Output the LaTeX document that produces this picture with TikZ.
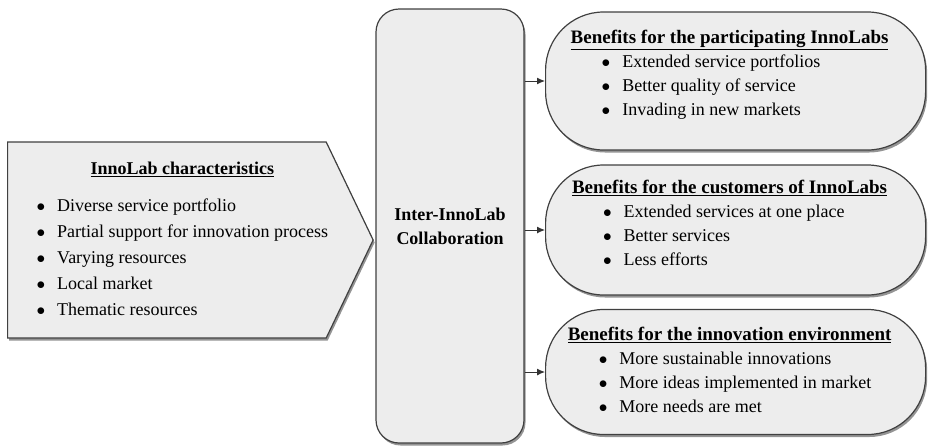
\documentclass[tikz,border=0pt]{standalone}
\usepackage{fontspec}
\setmainfont{Liberation Serif}
\usetikzlibrary{shapes.symbols,shadows,arrows.meta}

\newcommand{\itm}[1]{$\bullet$\hspace{12pt}#1}
\newcommand{\hdr}[1]{\underline{\textbf{#1}}}
\newcommand{\bighdr}[1]{{\fontsize{19}{24}\selectfont\hdr{#1}}}

\begin{document}
\begin{tikzpicture}[x=1pt,y=-1pt,
    boxed/.style={draw=black!75,line width=1.2pt,fill=black!7,
      drop shadow={shadow xshift=1.5pt,shadow yshift=-2.5pt,fill=black!70,opacity=.6}},
    capsule/.style={boxed,rounded corners=58pt,minimum width=380pt,anchor=west,
      font=\fontsize{18}{24}\selectfont},
    arr/.style={draw=black!80,line width=1pt,-{Latex[length=8pt,width=7pt]}}]
  \useasboundingbox (0,0) rectangle (928,445);

  % left: characteristics
  \node[boxed,signal,signal to=east,signal pointer angle=128.8,
        minimum height=196pt,inner xsep=0pt,inner ysep=0pt,anchor=west,
        font=\fontsize{18}{26}\selectfont] (chars) at (7,240)
    {\begin{tabular}{@{\hspace{29pt}}l@{\hspace{-2pt}}}
      \multicolumn{1}{@{\hspace{29pt}}c@{\hspace{-2pt}}}{\hdr{InnoLab characteristics}}\\[11pt]
      \itm{Diverse service portfolio}\\
      \itm{Partial support for innovation process}\\
      \itm{Varying resources}\\
      \itm{Local market}\\
      \itm{Thematic resources}
    \end{tabular}};

  % middle
  \node[boxed,rounded corners=23pt,minimum width=148pt,minimum height=434pt,
        align=center,font=\bfseries\fontsize{18}{24}\selectfont] (collab) at (450,226)
    {Inter-InnoLab\\Collaboration};

  % right: benefits
  \node[capsule,minimum height=138pt] (labs) at (545,81)
    {\raisebox{6pt}[\height][\depth]{\begin{tabular}{@{}l@{\hspace{12pt}}}
      \bighdr{Benefits for the participating InnoLabs}\\
      \hspace{31pt}\itm{Extended service portfolios}\\
      \hspace{31pt}\itm{Better quality of service}\\
      \hspace{31pt}\itm{Invading in new markets}
    \end{tabular}}};
  \node[capsule,minimum height=130pt] (cust) at (545,230)
    {\raisebox{5pt}[\height][\depth]{\begin{tabular}{@{}l@{\hspace{12pt}}}
      \bighdr{Benefits for the customers of InnoLabs}\\
      \hspace{31pt}\itm{Extended services at one place}\\
      \hspace{31pt}\itm{Better services}\\
      \hspace{31pt}\itm{Less efforts}
    \end{tabular}}};
  \node[capsule,minimum height=125pt] (env) at (545,372)
    {\begin{tabular}{@{}l@{\hspace{12pt}}}
      \bighdr{Benefits for the innovation environment}\\
      \hspace{31pt}\itm{More sustainable innovations}\\
      \hspace{31pt}\itm{More ideas implemented in market}\\
      \hspace{31pt}\itm{More needs are met}
    \end{tabular}};

  \draw[arr] (collab.east |- labs.west) -- (labs.west);
  \draw[arr] (collab.east |- cust.west) -- (cust.west);
  \draw[arr] (collab.east |- env.west) -- (env.west);
\end{tikzpicture}
\end{document}
